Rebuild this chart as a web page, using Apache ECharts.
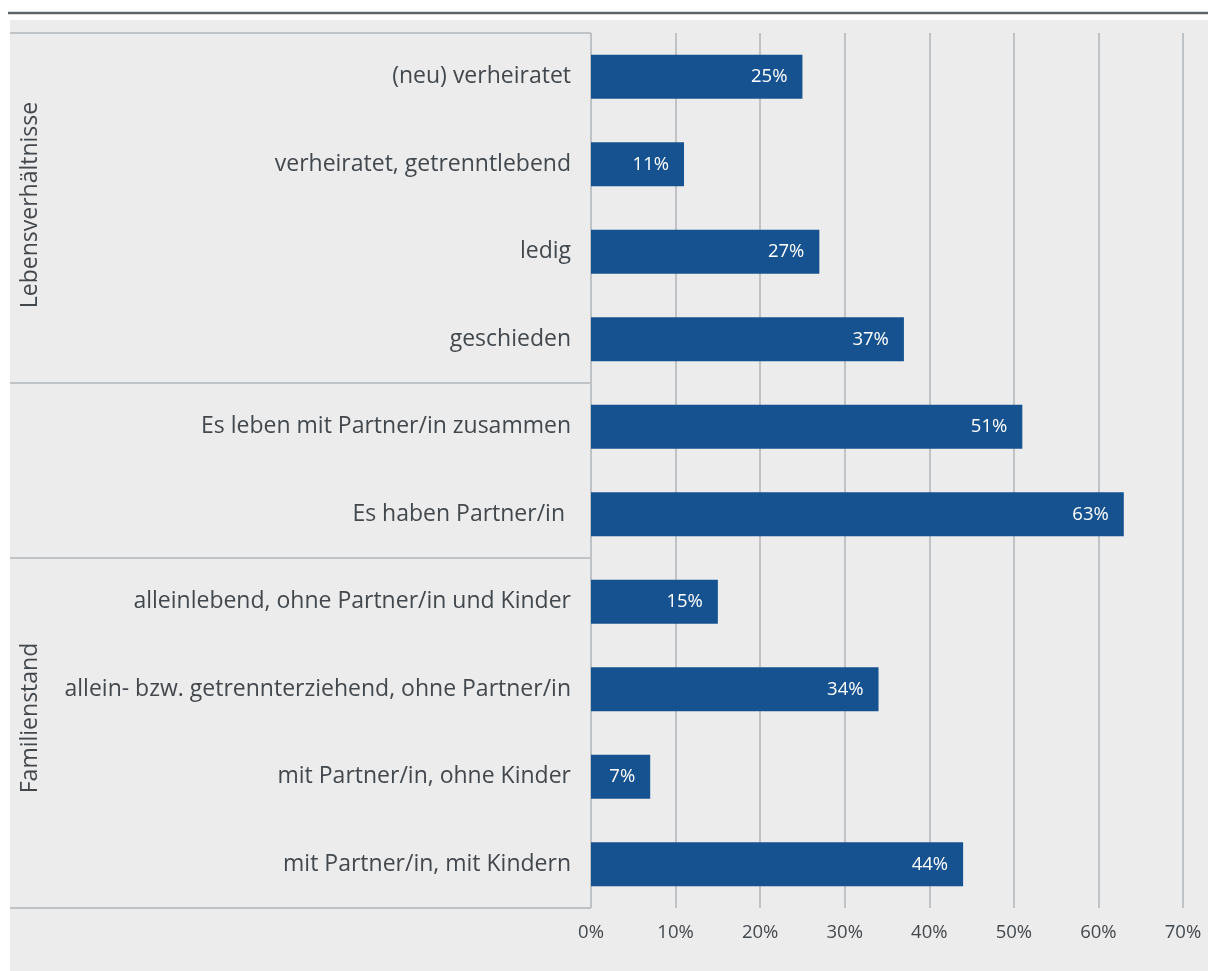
<!DOCTYPE html>
<html>
<head>
<meta charset="utf-8">
<title>Lebensverhältnisse und Familienstand</title>
<script src="https://cdn.jsdelivr.net/npm/echarts@6/dist/echarts.min.js"></script>
<style>
  html, body { margin: 0; padding: 0; background: #ffffff; }
  #chart { width: 1208px; height: 971px; }
</style>
</head>
<body>
<div id="chart"></div>
<script>
// Row labels, top to bottom
const categories = [
  '(neu) verheiratet',
  'verheiratet, getrenntlebend',
  'ledig',
  'geschieden',
  'Es leben mit Partner/in zusammen',
  'Es haben Partner/in ',
  'alleinlebend, ohne Partner/in und Kinder',
  'allein- bzw. getrennterziehend, ohne Partner/in',
  'mit Partner/in, ohne Kinder',
  'mit Partner/in, mit Kindern'
];

// Share in percent for each row
const shares = [25, 11, 27, 37, 51, 63, 15, 34, 7, 44];

// Value axis range (percent)
const axisMin = 0;
const axisMax = 70;
const axisStep = 10;

// Row groups shown in the left column (indices into categories)
const groups = [
  { label: 'Lebensverhältnisse', first: 0, last: 3 },
  { label: '', first: 4, last: 5 },
  { label: 'Familienstand', first: 6, last: 9 }
];

const BAR = '#16528f';
const LINE = '#bfc3c6';
const TEXT = '#43484d';
const FONT = '"Open Sans", Roboto, "Liberation Sans", sans-serif';

// vertical nudge of the rotated group captions (px)
const captionShift = { 'Lebensverhältnisse': -3, 'Familienstand': -15 };

const chart = echarts.init(document.getElementById('chart'), null, { renderer: 'canvas' });

chart.setOption({
  backgroundColor: 'transparent',
  animation: false,
  grid: { left: 591, right: 25, top: 33, bottom: 63, containLabel: false },
  xAxis: {
    type: 'value',
    min: axisMin,
    max: axisMax,
    interval: axisStep,
    axisLine: { show: false },
    axisTick: { show: false },
    splitLine: { show: true, lineStyle: { color: LINE, width: 2 } },
    axisLabel: {
      formatter: '{value}%',
      color: TEXT,
      fontFamily: FONT,
      fontSize: 18.5,
      margin: 15
    }
  },
  yAxis: {
    type: 'category',
    inverse: true,
    data: categories,
    axisLine: { show: false },
    axisTick: { show: false },
    splitLine: { show: false },
    axisLabel: {
      color: TEXT,
      fontFamily: FONT,
      fontSize: 23,
      margin: 20
    }
  },
  series: [{
    type: 'bar',
    data: shares,
    barWidth: 44,
    itemStyle: { color: BAR },
    label: {
      show: true,
      position: 'insideRight',
      distance: 15,
      formatter: '{c}%',
      color: '#ffffff',
      fontFamily: FONT,
      fontSize: 18.5
    }
  }]
});

// Left column frame and group captions, placed from the category scale
function drawFrame() {
  const yOf = i => chart.convertToPixel({ yAxisIndex: 0 }, categories[i]);
  const half = (yOf(1) - yOf(0)) / 2;
  const x0 = chart.convertToPixel({ xAxisIndex: 0 }, axisMin);
  const left = 10;
  const elements = [
    // page panel
    { type: 'rect', z: -10, silent: true,
      shape: { x: 10, y: 20, width: 1198, height: 951 },
      style: { fill: '#ececec' } },
    // rule above the panel
    { type: 'line', z: -5, silent: true,
      shape: { x1: 8, y1: 13, x2: 1208, y2: 13 },
      style: { stroke: '#5f6469', lineWidth: 2.5 } }
  ];
  const top = yOf(groups[0].first) - half;
  elements.push({ type: 'line', silent: true,
    shape: { x1: left, y1: top, x2: x0, y2: top },
    style: { stroke: LINE, lineWidth: 2 } });
  groups.forEach(g => {
    const yTop = yOf(g.first) - half;
    const yBot = yOf(g.last) + half;
    elements.push({ type: 'line', silent: true,
      shape: { x1: left, y1: yBot, x2: x0, y2: yBot },
      style: { stroke: LINE, lineWidth: 2 } });
    if (g.label) {
      elements.push({ type: 'text', silent: true,
        x: 30, y: (yTop + yBot) / 2 + (captionShift[g.label] || 0),
        rotation: Math.PI / 2,
        style: { text: g.label, fill: TEXT, font: '23px ' + FONT,
          textAlign: 'center', textVerticalAlign: 'middle' } });
    }
  });
  chart.setOption({ graphic: { elements } });
}
drawFrame();
</script>
</body>
</html>
